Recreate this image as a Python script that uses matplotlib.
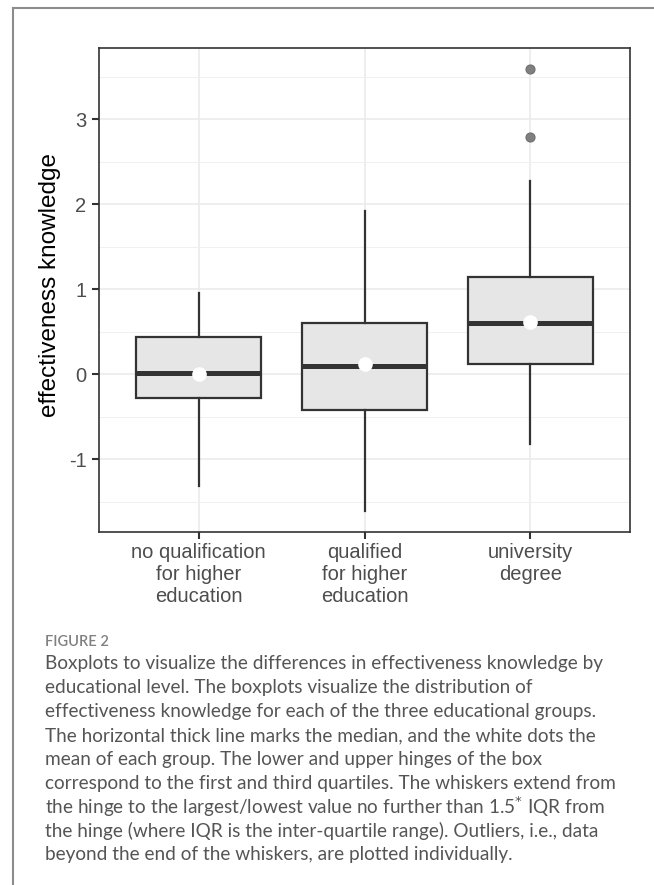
import matplotlib.pyplot as plt
from matplotlib.lines import Line2D

# group summaries (effectiveness knowledge by education)
groups = ["no qualification\nfor higher\neducation",
          "qualified\nfor higher\neducation",
          "university\ndegree"]
q1 = [-0.28, -0.42, 0.12]
medians = [0.02, 0.10, 0.61]
q3 = [0.435, 0.61, 1.15]
whisk_lo = [-1.31, -1.61, -0.82]
whisk_hi = [0.96, 1.92, 2.28]
means = [0.01, 0.12, 0.62]
outliers = [[], [], [3.59, 2.79]]

caption_lines = [
    "Boxplots to visualize the differences in effectiveness knowledge by",
    "educational level. The boxplots visualize the distribution of",
    "effectiveness knowledge for each of the three educational groups.",
    "The horizontal thick line marks the median, and the white dots the",
    "mean of each group. The lower and upper hinges of the box",
    "correspond to the first and third quartiles. The whiskers extend from",
    r"the hinge to the largest/lowest value no further than 1.5$^{*}$ IQR from",
    "the hinge (where IQR is the inter-quartile range). Outliers, i.e., data",
    "beyond the end of the whiskers, are plotted individually.",
]

W, H = 654, 885
fig = plt.figure(figsize=(W / 100, H / 100), dpi=100)

# page frame (left and top rules)
fig.add_artist(Line2D([13 / W, 13 / W], [0, 1 - 8 / H], color="#8c8c8c", lw=1.5))
fig.add_artist(Line2D([13 / W, 1], [1 - 8 / H, 1 - 8 / H], color="#8c8c8c", lw=1.5))

left, right, top, bottom = 99, 630, 48, 532
ax = fig.add_axes([left / W, 1 - bottom / H, (right - left) / W, (bottom - top) / H])

stats = []
for i in range(len(groups)):
    stats.append(dict(q1=q1[i], med=medians[i], q3=q3[i], whislo=whisk_lo[i],
                      whishi=whisk_hi[i], mean=means[i], fliers=outliers[i]))

pos = [1, 2, 3]
ax.bxp(stats, positions=pos, widths=0.75, patch_artist=True, showmeans=True,
       showcaps=False, zorder=3,
       boxprops=dict(facecolor="#e6e6e6", edgecolor="#333333", linewidth=1.6),
       medianprops=dict(color="#333333", linewidth=3.6, solid_capstyle="butt"),
       whiskerprops=dict(color="#333333", linewidth=1.6),
       meanprops=dict(marker="o", markerfacecolor="white", markeredgecolor="white",
                      markersize=9.5),
       flierprops=dict(marker="o", markerfacecolor="#808080", markeredgecolor="#6e6e6e",
                       markersize=6.5, markeredgewidth=0.8))

ax.set_xlim(0.4, 3.6)
ax.set_ylim(-1.853, 3.84)
ax.set_yticks([-1, 0, 1, 2, 3])
ax.set_yticklabels(["-1", "0", "1", "2", "3"])
ax.set_yticks([-1.5, -0.5, 0.5, 1.5, 2.5, 3.5], minor=True)
ax.set_xticks(pos)
ax.set_xticklabels(groups, linespacing=1.2)

ax.grid(True, which="major", color="#ebebeb", linewidth=1.2, zorder=0)
ax.grid(True, which="minor", axis="y", color="#f0f0f0", linewidth=0.7, zorder=0)
ax.set_axisbelow(True)
for sp in ax.spines.values():
    sp.set_color("#333333")
    sp.set_linewidth(1.2)

ax.tick_params(which="major", length=5, width=1.5, color="#333333",
               labelcolor="#4d4d4d", labelsize=14.5)
ax.tick_params(axis="y", pad=4)
ax.tick_params(axis="x", pad=3)
ax.tick_params(which="minor", length=0)
for lab in ax.get_xticklabels() + ax.get_yticklabels():
    lab.set_family("Liberation Sans")

fig.text(50 / W, 1 - 285 / H, "effectiveness knowledge", rotation=90,
         ha="center", va="center", fontsize=17.5, family="Liberation Sans", color="black")

# caption
fig.text(45 / W, 1 - 642 / H, "FIGURE 2", ha="left", va="center", fontsize=10.5,
         family="Lato", weight="semibold", color="#808080")
for k, line in enumerate(caption_lines):
    fig.text(45 / W, 1 - (664 + 23.8 * k) / H, line, ha="left", va="center",
             fontsize=13.7, family="Lato", color="#555555")

fig.savefig("out.png", dpi=100)
